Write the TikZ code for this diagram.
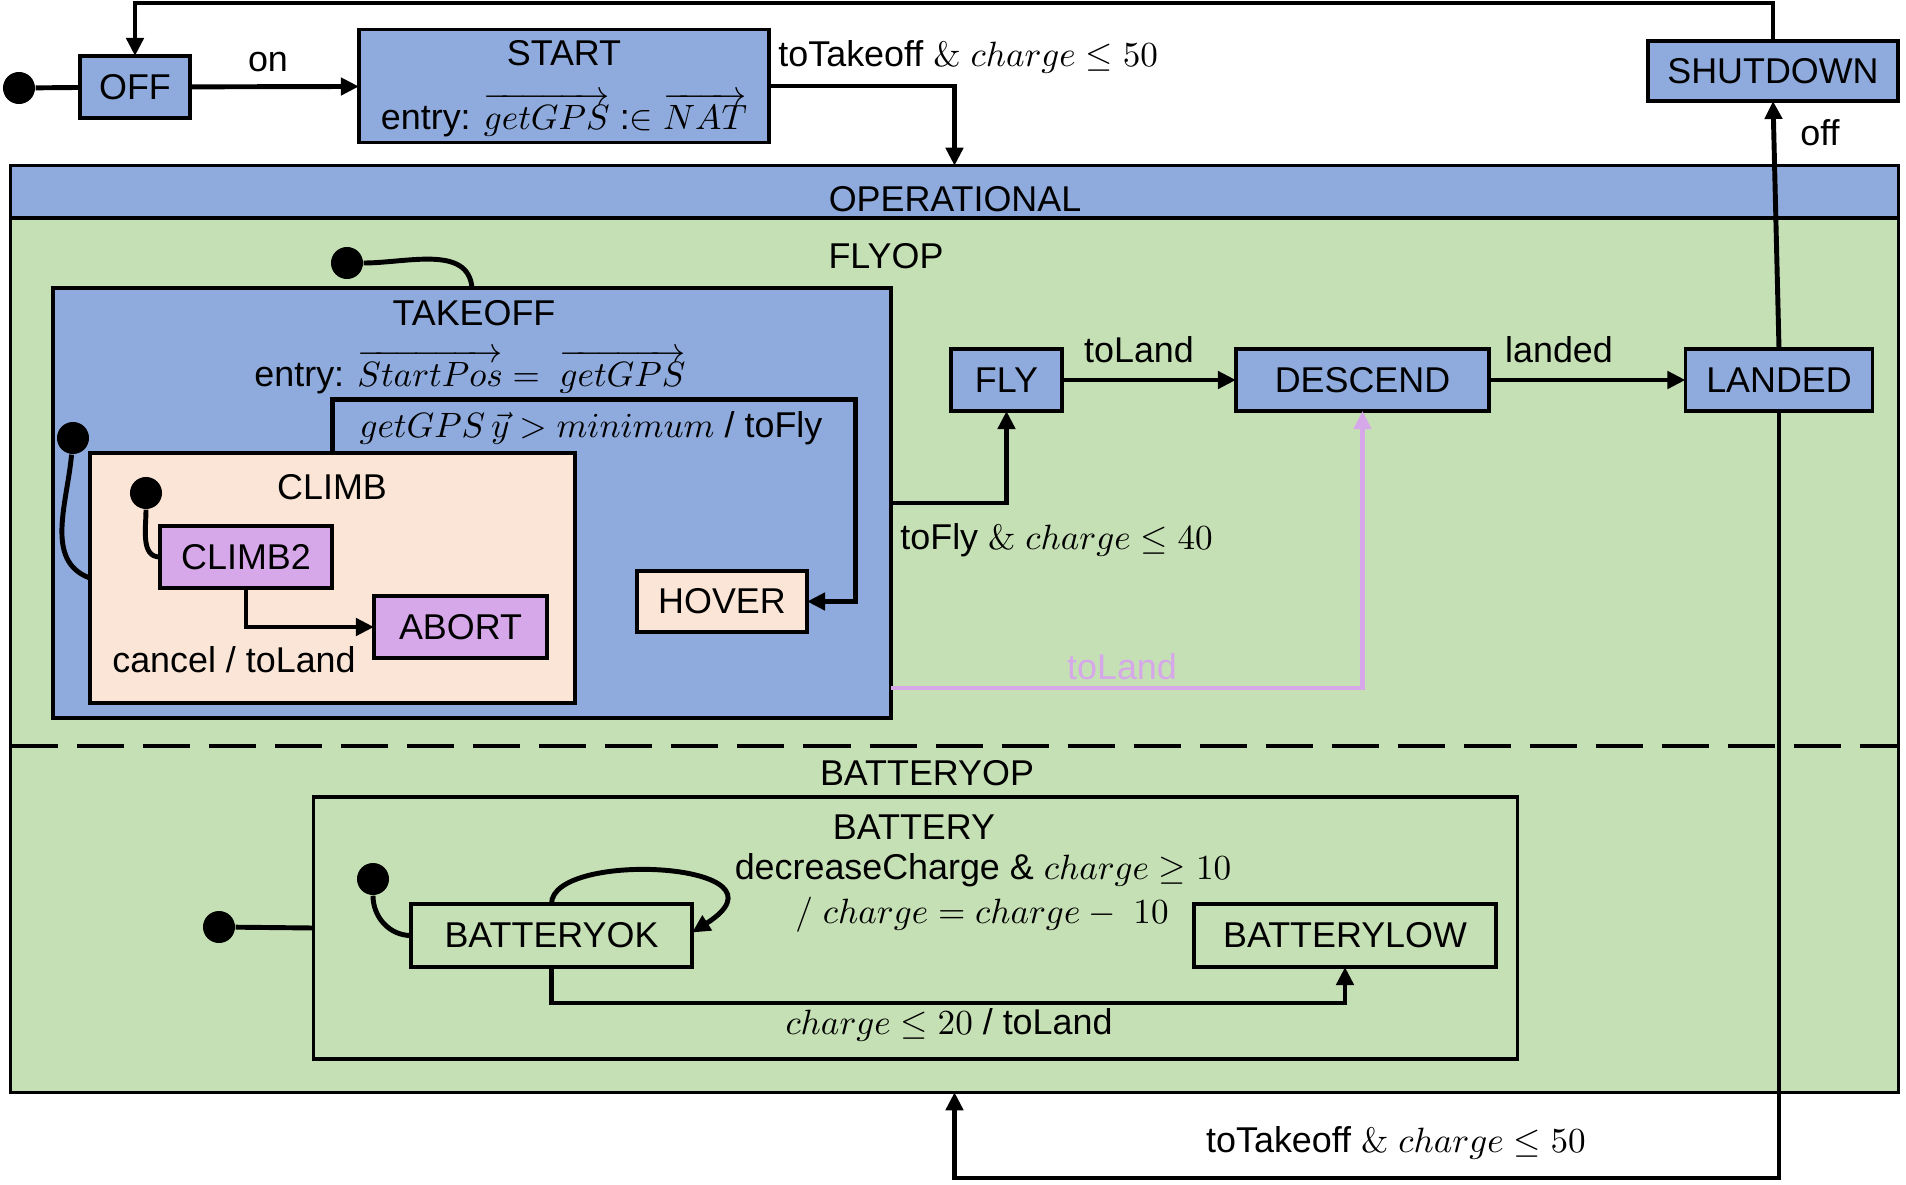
\documentclass[tikz,border=0pt]{standalone}
\usepackage{amsmath}
\usepackage{amssymb}
\usepackage[no-math]{fontspec}
\setmainfont{Liberation Sans}
\usetikzlibrary{arrows.meta}

\definecolor{stblue}{HTML}{8FAADC}
\definecolor{stgreen}{HTML}{C5E0B4}
\definecolor{stpeach}{HTML}{FBE5D6}
\definecolor{stlilac}{HTML}{D6A8EA}

\begin{document}
\begin{tikzpicture}[
    x=0.01cm, y=-0.01cm,
    font=\fontsize{10.2}{12}\selectfont,
    stbox/.style={draw, line width=1pt, rectangle, inner sep=0pt, outer sep=0pt},
    trans/.style={line width=1.4pt, -{Triangle[length=0.18cm,width=0.17cm]}},
    initdot/.style={circle, fill=black, inner sep=0pt, minimum size=0.32cm},
    initline/.style={line width=1.4pt},
    tight/.style={inner sep=0.5pt}
]
\fill[white] (0,0) rectangle (1906,1185);
\useasboundingbox (0,0) rectangle (1906,1185);

% top row
\node[initdot] (offinit) at (19,88) {};
\node[stbox, fill=stblue, minimum width=1.1cm, minimum height=0.62cm] (off) at (135,87) {OFF};
\node[stbox, fill=stblue, minimum width=4.1cm, minimum height=1.13cm] (start) at (564,86) {};
\node[tight] (startlbl) at (564,53) {START};
\node[tight] (startentry) at (564,115) {entry: $\overrightarrow{getGPS}$ :$\in$ $\overrightarrow{NAT}$};
\node[stbox, fill=stblue, minimum width=2.5cm, minimum height=0.6cm] (shutdown) at (1773,71) {SHUTDOWN};

% OPERATIONAL
\node[stbox, fill=stgreen, minimum width=18.87cm, minimum height=9.26cm] (operational) at (954.5,629) {};
\node[stbox, fill=stblue, minimum width=18.87cm, minimum height=0.52cm, anchor=north] (ophead) at (operational.north) {};
\node (oplbl) at (955,199) {OPERATIONAL};
\coordinate (sepl) at (11,746);
\coordinate (sepr) at (1898,746);
\draw[line width=1.4pt, dash pattern=on 0.47cm off 0.19cm] (sepl) -- (sepr);
\node (flyoplbl) at (886,256) {FLYOP};
\node (batoplbl) at (927,773) {BATTERYOP};

% TAKEOFF
\node[stbox, fill=stblue, minimum width=8.38cm, minimum height=4.3cm] (takeoff) at (472,503) {};
\node[tight] (takeofflbl) at (474,313) {TAKEOFF};
\node[tight] (takeoffentry) at (470,372) {entry: $\overrightarrow{StartPos} =\ \overrightarrow{getGPS}$};
\node[stbox, fill=stpeach, minimum width=4.85cm, minimum height=2.5cm] (climb) at (332.5,578) {};
\node (climblbl) at (332,487) {CLIMB};
\node[stbox, fill=stlilac, minimum width=1.72cm, minimum height=0.62cm] (climbb) at (246,557) {CLIMB2};
\node[stbox, fill=stlilac, minimum width=1.73cm, minimum height=0.62cm] (abort) at (460.5,627) {ABORT};
\node[stbox, fill=stpeach, minimum width=1.7cm, minimum height=0.61cm] (hover) at (722,601.5) {HOVER};

% flight states
\node[stbox, fill=stblue, minimum width=1.11cm, minimum height=0.62cm] (fly) at (1006.5,380) {FLY};
\node[stbox, fill=stblue, minimum width=2.53cm, minimum height=0.62cm] (descend) at (1362.5,380) {DESCEND};
\node[stbox, fill=stblue, minimum width=1.87cm, minimum height=0.62cm] (landed) at (1779,380) {LANDED};

% BATTERY
\node[stbox, minimum width=12.03cm, minimum height=2.62cm] (battery) at (915.5,928) {};
\node (batlbl) at (914,827) {BATTERY};
\node[stbox, minimum width=2.81cm, minimum height=0.63cm] (batok) at (551.5,935.5) {BATTERYOK};
\node[stbox, minimum width=3.02cm, minimum height=0.63cm] (batlow) at (1345,935.5) {BATTERYLOW};

% initial states
\node[initdot] (takeoffinit) at (347,263) {};
\node[initdot] (climbinit) at (73,438) {};
\node[initdot] (climbbinit) at (146,493) {};
\node[initdot] (batinit) at (219,927) {};
\node[initdot] (batokinit) at (373,879) {};
\draw[initline] (offinit) -- (off);
\draw[initline] (takeoffinit) to[out=0,in=95] (takeoff.north);
\draw[initline] (climbinit) to[out=-95,in=160] (climb.west);
\draw[initline] (climbbinit) to[out=-90,in=180] (climbb.west);
\draw[initline] (batinit) -- (battery.west);
\draw[initline] (batokinit) to[out=-90,in=180] (batok.west);

% transitions
\draw[trans] (off) -- (start);
\draw[trans] (start.east) -| (operational.north);
\draw[trans] (shutdown.north) -- ++(0,-38) -| (off.north);
\draw[trans] (landed.north) -- (shutdown.south);
\draw[trans] (landed.south) -- ++(0,767) -| (operational.south);
\draw[trans] (fly) -- (descend);
\draw[trans] (descend) -- (landed);
\draw[trans] (takeoff.east) -| (fly.south);
\draw[trans, stlilac] (takeoff.east) ++(0,185) -| (descend.south);
\draw[trans] (climb.north) -- ++(0,-53) -- ++(523,0) |- (hover.east);
\draw[trans] (climbb.south) |- (abort.west);
\draw[trans] (batok.north) .. controls +(0,-55) and +(110,-70) .. ([yshift=0.03cm]batok.east);
\draw[trans] (batok.south) -- ++(0,36) -| (batlow.south);

% labels
\node (onlbl) at (268,62) {on};
\node[anchor=west] (totakeofflbl) at (766,57) {toTakeoff $\&\ charge \leq 50$};
\node (offlbl) at (1820,133) {off};
\node (guardlbl) at (591,428) {$getGPS\,\vec{y} > minimum$ / toFly};
\node (cancellbl) at (234,660) {cancel / toLand};
\node (tolandlbl) at (1139,350) {toLand};
\node (landedlbl) at (1559,350) {landed};
\node[anchor=west] (toflylbl) at (888,540) {toFly $\&\ charge \leq 40$};
\node[text=stlilac] (pinklbl) at (1122,667) {toLand};
\node (declbl) at (983,870) {decreaseCharge \& $charge \geq 10$};
\node (assignlbl) at (982,915) {$/\ charge = charge -\ 10$};
\node (lowlbl) at (949,1025) {$charge \leq 20$ / toLand};
\node (bottomlbl) at (1396,1143) {toTakeoff $\&\ charge \leq 50$};
\end{tikzpicture}
\end{document}
